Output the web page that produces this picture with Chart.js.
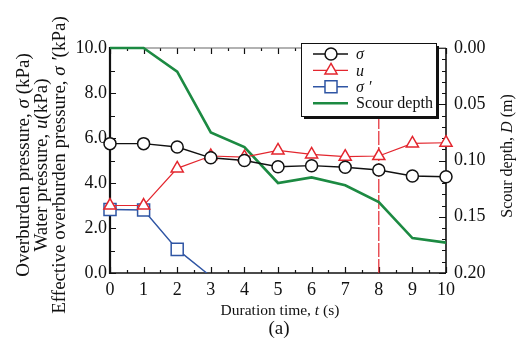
<!DOCTYPE html>
<html>
<head>
<meta charset="utf-8">
<script src="https://cdn.jsdelivr.net/npm/chart.js@4.4.0/dist/chart.umd.min.js"></script>
<style>
  html, body { margin: 0; padding: 0; background: #fff; }
  #wrap { position: relative; width: 524px; height: 345px; }
</style>
</head>
<body>
<div id="wrap"><canvas id="chart" width="524" height="345"></canvas></div>
<script>
// values
const times = [0, 1, 2, 3, 4, 5, 6, 7, 8, 9, 10]
const sigma = [5.75, 5.75, 5.6, 5.12, 5.0, 4.72, 4.77, 4.7, 4.58, 4.31, 4.28]
const waterU = [3.0, 3.0, 4.65, 5.2, 5.15, 5.45, 5.27, 5.17, 5.2, 5.76, 5.79]
const sigmaEff = [2.82, 2.8, 1.05, -0.15]
const scourDepth = [0.0, 0.0, 0.021, 0.075, 0.088, 0.12, 0.115, 0.122, 0.137, 0.169, 0.173]
const markTime = 8
const seriesNames = ['σ', 'u', 'σ \u2032', 'Scour depth']

const SERIF = "'Liberation Serif', 'Times New Roman', Times, serif"
const RED = '#e3262e'
const BLUE = '#2f55a4'
const GREEN = '#1c8a42'

const toPoints = (ys) => ys.map((y, i) => ({x: times[i], y: y}))
const edgeClip = {left: 12, top: 12, right: 12, bottom: 0}

function marker (ctx, style, r, x, y, color) {
  ctx.save()
  ctx.fillStyle = '#fff'
  ctx.strokeStyle = color
  ctx.lineWidth = 1.5
  ctx.beginPath()
  if (style === 'circle') {
    ctx.arc(x, y, r, 0, Math.PI * 2)
  } else if (style === 'triangle') {
    let a = 0
    ctx.moveTo(x + Math.sin(a) * r, y - Math.cos(a) * r)
    a += Math.PI * 2 / 3
    ctx.lineTo(x + Math.sin(a) * r, y - Math.cos(a) * r)
    a += Math.PI * 2 / 3
    ctx.lineTo(x + Math.sin(a) * r, y - Math.cos(a) * r)
    ctx.closePath()
  } else if (style === 'rect') {
    const s = Math.SQRT1_2 * r
    ctx.rect(x - s, y - s, 2 * s, 2 * s)
  }
  ctx.fill()
  ctx.stroke()
  ctx.restore()
}

// draw a line of text made of [text, italic] runs, centred at (cx, cy)
function drawRuns (ctx, runs, size, cx, cy, angle) {
  ctx.save()
  ctx.translate(cx, cy)
  ctx.rotate(angle || 0)
  ctx.fillStyle = '#111'
  ctx.textBaseline = 'middle'
  ctx.textAlign = 'left'
  let total = 0
  runs.forEach((r) => {
    ctx.font = (r[1] ? 'italic ' : '') + size + 'px ' + SERIF
    total += ctx.measureText(r[0]).width
  })
  let x = -total / 2
  runs.forEach((r) => {
    ctx.font = (r[1] ? 'italic ' : '') + size + 'px ' + SERIF
    ctx.fillText(r[0], x, 0)
    x += ctx.measureText(r[0]).width
  })
  ctx.restore()
}

const framePlugin = {
  id: 'frame',
  beforeDatasetsDraw (chart) {
    const ctx = chart.ctx
    const a = chart.chartArea
    const xs = chart.scales.x
    const ys = chart.scales.y
    const ds = chart.scales.y2
    ctx.save()
    ctx.strokeStyle = '#111'
    ctx.lineWidth = 1.2
    ctx.beginPath()
    for (let t = 0; t <= 10; t += 0.5) {
      const px = Math.round(xs.getPixelForValue(t)) + 0.5
      const len = t % 1 === 0 ? 6 : 3
      ctx.moveTo(px, a.bottom); ctx.lineTo(px, a.bottom - len)
      ctx.moveTo(px, a.top); ctx.lineTo(px, a.top + len)
    }
    for (let v = 0; v <= 10; v += 1) {
      const py = Math.round(ys.getPixelForValue(v)) + 0.5
      ctx.moveTo(a.left, py); ctx.lineTo(a.left + (v % 2 === 0 ? 6 : 5), py)
    }
    for (let k = 0; k <= 20; k++) {
      const py = Math.round(ds.getPixelForValue(k / 100)) + 0.5
      ctx.moveTo(a.right, py); ctx.lineTo(a.right - (k % 5 === 0 ? 7 : 4), py)
    }
    ctx.stroke()

    ctx.strokeStyle = '#666'
    ctx.lineWidth = 1.2
    ctx.beginPath()
    ctx.moveTo(a.left, a.top); ctx.lineTo(a.right, a.top)
    ctx.stroke()
    ctx.strokeStyle = '#111'
    ctx.lineWidth = 1.6
    ctx.beginPath()
    ctx.moveTo(a.left, a.bottom); ctx.lineTo(a.right, a.bottom)
    ctx.moveTo(a.right, a.top); ctx.lineTo(a.right, a.bottom)
    ctx.stroke()
    ctx.lineWidth = 2.2
    ctx.beginPath()
    ctx.moveTo(a.left, a.top - 1); ctx.lineTo(a.left, a.bottom + 1)
    ctx.stroke()
    ctx.restore()
  },
  afterDraw (chart) {
    const ctx = chart.ctx
    const a = chart.chartArea
    const midY = 165
    // left axis titles (three lines)
    drawRuns(ctx, [['Overburden pressure, ', false], ['σ', true], [' (kPa)', false]], 19, 24, midY, -Math.PI / 2)
    drawRuns(ctx, [['Water pressure, ', false], ['u', true], ['(kPa)', false]], 19, 42, midY, -Math.PI / 2)
    drawRuns(ctx, [['Effective overburden pressure, ', false], ['σ \u2032', true], ['(kPa)', false]], 19, 60, midY, -Math.PI / 2)
    // right axis title
    drawRuns(ctx, [['Scour depth, ', false], ['D', true], [' (m)', false]], 16, 508, 156, -Math.PI / 2)
    // x axis title and caption
    drawRuns(ctx, [['Duration time, ', false], ['t', true], [' (s)', false]], 15.5, (a.left + a.right) / 2 + 2, 311, 0)
    drawRuns(ctx, [['(a)', false]], 19, (a.left + a.right) / 2 + 1, 329, 0)

    // legend box with drop shadow
    const bx = 301, by = 43, bw = 135, bh = 73
    ctx.save()
    ctx.fillStyle = '#111'
    ctx.fillRect(bx + 3, by + 3, bw, bh)
    ctx.fillStyle = '#fff'
    ctx.fillRect(bx, by, bw, bh)
    ctx.strokeStyle = '#111'
    ctx.lineWidth = 1
    ctx.strokeRect(bx + 0.5, by + 0.5, bw, bh)
    const rows = chart.data.datasets.filter((d) => !d.hideInLegend)
    rows.forEach((d, i) => {
      const ry = by + 11 + i * 16.4
      ctx.strokeStyle = d.borderColor
      ctx.lineWidth = d.borderWidth
      ctx.beginPath()
      ctx.moveTo(313, ry); ctx.lineTo(348, ry)
      ctx.stroke()
      if (d.pointStyle) marker(ctx, d.pointStyle, d.legendRadius, 331, ry, d.borderColor)
      ctx.fillStyle = '#111'
      ctx.textBaseline = 'middle'
      ctx.textAlign = 'left'
      ctx.font = (d.label === 'Scour depth' ? '' : 'italic ') + '16px ' + SERIF
      ctx.fillText(d.label, 356, ry + 1)
    })
    ctx.restore()
  }
}

new Chart('chart', {
  type: 'line',
  data: {
    datasets: [{
      label: seriesNames[0],
      data: toPoints(sigma),
      yAxisID: 'y',
      borderColor: '#111',
      borderWidth: 1.4,
      pointStyle: 'circle',
      pointRadius: 6,
      legendRadius: 6,
      pointBorderWidth: 1.5,
      pointBackgroundColor: '#fff',
      clip: edgeClip,
      order: 1
    }, {
      label: seriesNames[1],
      data: toPoints(waterU),
      yAxisID: 'y',
      borderColor: RED,
      borderWidth: 1.2,
      pointStyle: 'triangle',
      pointRadius: 7,
      legendRadius: 7,
      pointBorderWidth: 1.5,
      pointBackgroundColor: '#fff',
      clip: edgeClip,
      order: 2
    }, {
      label: seriesNames[2],
      data: toPoints(sigmaEff),
      yAxisID: 'y',
      borderColor: BLUE,
      borderWidth: 1.4,
      pointStyle: 'rect',
      pointRadius: [8.5, 8.5, 8.5, 0],
      legendRadius: 8.5,
      pointBorderWidth: 1.5,
      pointBackgroundColor: '#fff',
      clip: edgeClip,
      order: 3
    }, {
      label: seriesNames[3],
      data: toPoints(scourDepth),
      yAxisID: 'y2',
      borderColor: GREEN,
      borderWidth: 2.6,
      pointRadius: 0,
      clip: edgeClip,
      order: 5
    }, {
      label: 'mark',
      hideInLegend: true,
      data: [{x: markTime, y: 0}, {x: markTime, y: 10}],
      yAxisID: 'y',
      borderColor: RED,
      borderWidth: 1.2,
      borderDash: [14, 2],
      pointRadius: 0,
      order: 6
    }]
  },
  options: {
    responsive: false,
    animation: false,
    devicePixelRatio: 1,
    layout: {padding: {top: 48, left: 0, right: 0, bottom: 0}},
    plugins: {legend: {display: false}, tooltip: {enabled: false}},
    scales: {
      x: {
        type: 'linear',
        min: 0,
        max: 10,
        grid: {display: false, drawTicks: false},
        border: {display: false},
        ticks: {stepSize: 1, padding: 6, color: '#111', font: {family: SERIF, size: 18}},
        afterFit: (s) => { s.height = 72 }
      },
      y: {
        position: 'left',
        min: 0,
        max: 10,
        grid: {display: false, drawTicks: false},
        border: {display: false},
        ticks: {stepSize: 2, padding: 3, color: '#111', font: {family: SERIF, size: 18}, callback: (v) => v.toFixed(1)},
        afterFit: (s) => { s.width = 110 }
      },
      y2: {
        position: 'right',
        min: 0,
        max: 0.2,
        reverse: true,
        grid: {display: false, drawTicks: false},
        border: {display: false},
        ticks: {stepSize: 0.05, padding: 8, color: '#111', font: {family: SERIF, size: 18}, callback: (v) => v.toFixed(2)},
        afterFit: (s) => { s.width = 78 }
      }
    }
  },
  plugins: [framePlugin]
})
</script>
</body>
</html>
